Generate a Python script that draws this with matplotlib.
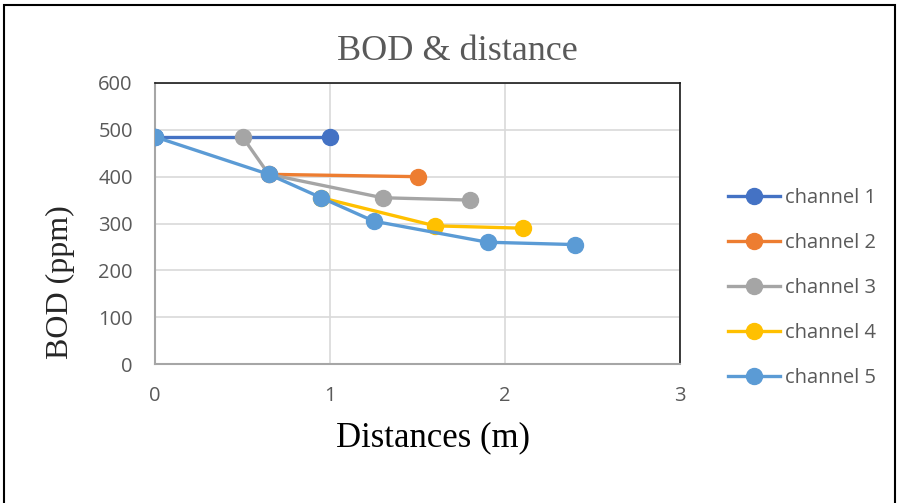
import matplotlib.pyplot as plt
from matplotlib.patches import Rectangle

# data
ch1_x = [0, 1]
ch1_y = [485, 485]
ch2_x = [0.65, 1.5]
ch2_y = [405, 400]
ch3_x = [0.5, 0.65, 1.3, 1.8]
ch3_y = [485, 405, 355, 350]
ch4_x = [0.95, 1.6, 2.1]
ch4_y = [355, 295, 290]
ch5_x = [0, 0.65, 0.95, 1.25, 1.9, 2.4]
ch5_y = [485, 405, 355, 305, 260, 255]

series = [
    ('channel 1', ch1_x, ch1_y, '#4472C4'),
    ('channel 2', ch2_x, ch2_y, '#ED7D31'),
    ('channel 3', ch3_x, ch3_y, '#A5A5A5'),
    ('channel 4', ch4_x, ch4_y, '#FFC000'),
    ('channel 5', ch5_x, ch5_y, '#5B9BD5'),
]

tick_font = 'Open Sans'
serif = 'Liberation Serif'

fig = plt.figure(figsize=(8.97, 5.03), dpi=100)
ax = fig.add_axes([155/897, 139/503, 525/897, 281/503])

for name, xs, ys, c in series:
    ax.plot(xs, ys, color=c, lw=2.4, marker='o', ms=11.5, label=name, zorder=3)

ax.set_xlim(0, 3)
ax.set_ylim(0, 600)
ax.set_xticks([0, 1, 2, 3])
ax.set_yticks(range(0, 601, 100))
ax.grid(True, color='#D9D9D9', lw=1.2)
ax.set_axisbelow(True)
ax.tick_params(length=0, labelsize=14.5, labelcolor='#595959')
ax.tick_params(axis='y', pad=16)
ax.tick_params(axis='x', pad=16)
for lab in ax.get_xticklabels() + ax.get_yticklabels():
    lab.set_family(tick_font)
for s in ['left', 'bottom']:
    ax.spines[s].set_color('#A6A6A6')
    ax.spines[s].set_linewidth(1.5)
for s in ['top', 'right']:
    ax.spines[s].set_color('#1a1a1a')
    ax.spines[s].set_linewidth(1.2)

fig.text(457/897, 1 - 52/503, 'BOD & distance', family=serif, fontsize=26,
         color='#595959', ha='center', va='center')
fig.text(433/897, 1 - 438/503, 'Distances (m)', family=serif, fontsize=25,
         color='black', ha='center', va='center')
fig.text(60/897, 1 - 282/503, 'BOD (ppm)', family=serif, fontsize=23,
         color='#262626', ha='center', va='center', rotation=90)

fig.legend(loc='center left', bbox_to_anchor=(728/897, 1 - 288/503), frameon=False,
           prop={'family': tick_font, 'size': 14.5}, labelcolor='#595959',
           labelspacing=1.25, handlelength=2.6, handletextpad=0.25,
           borderaxespad=0, borderpad=0)

fig.patches.append(Rectangle((4/897, -0.05), 891/897, 1.04, transform=fig.transFigure,
                             fill=False, edgecolor='black', lw=1.5))

fig.savefig('out.png', dpi=100)
